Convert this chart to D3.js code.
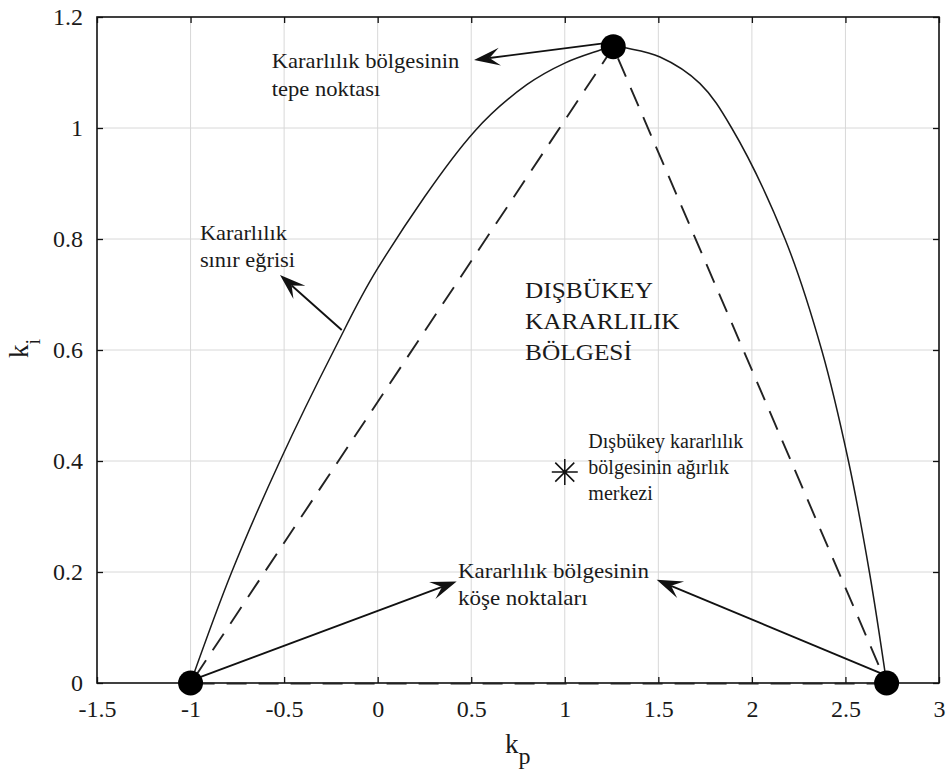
<!DOCTYPE html>
<html>
<head>
<meta charset="utf-8">
<script src="https://cdn.jsdelivr.net/npm/d3@7/dist/d3.min.js"></script>
<style>
  html, body { margin: 0; padding: 0; background: #fff; }
  svg text { font-family: "Liberation Serif", "Times New Roman", Times, "DejaVu Serif", serif; fill: #1a1a1a; }
</style>
</head>
<body>
<svg id="chart" width="946" height="773"></svg>
<script>
// Stability boundary of the PI controller in the (kp, ki) plane
const boundaryKp = [-1.00, -0.78, -0.522, -0.233, 0.00, 0.515, 0.797, 1.00, 1.19, 1.258, 1.33, 1.509, 1.723, 1.892, 2.177, 2.373, 2.516, 2.628, 2.72];
const boundaryKi = [0.00, 0.20, 0.40, 0.60, 0.747, 0.993, 1.078, 1.117, 1.1405, 1.148, 1.144, 1.128, 1.08, 1.00, 0.80, 0.60, 0.40, 0.20, 0.00];

// Vertices of the convex stability region (two corners and the apex)
const vertexKp = [-1.00, 1.259, 2.72];
const vertexKi = [0.00, 1.1465, 0.00];

// Centre of gravity of the convex region
const centroidKp = [1.0];
const centroidKi = [0.38];

// Axis ticks
const xTicks = [-1.5, -1, -0.5, 0, 0.5, 1, 1.5, 2, 2.5, 3];
const yTicks = [0, 0.2, 0.4, 0.6, 0.8, 1, 1.2];
const xTickLabels = ["-1.5", "-1", "-0.5", "0", "0.5", "1", "1.5", "2", "2.5", "3"];
const yTickLabels = ["0", "0.2", "0.4", "0.6", "0.8", "1", "1.2"];

// Annotation arrows (tail -> head, in kp/ki units)
const arrowFromKp = [1.206, -0.192, -0.985, 2.70];
const arrowFromKi = [1.1525, 0.636, 0.006, 0.016];
const arrowToKp = [0.515, -0.522, 0.422, 1.491];
const arrowToKi = [1.1225, 0.735, 0.183, 0.186];

// Annotation texts (anchor in kp/ki units, one entry per line)
const labelLines = [
  ["Kararlılık bölgesinin", "tepe noktası"],
  ["Kararlılık", "sınır eğrisi"],
  ["DIŞBÜKEY", "KARARLILIK", "BÖLGESİ"],
  ["Dışbükey kararlılık", "bölgesinin ağırlık", "merkezi"],
  ["Kararlılık bölgesinin", "köşe noktaları"]
];
const labelKp = [-0.566, -0.950, 0.788, 1.126, 0.429];
const labelKi = [1.109, 0.798, 0.693, 0.423, 0.189];

const W = 946, H = 773;
const margin = { left: 97, right: 7, top: 17, bottom: 90 };
const svg = d3.select("#chart");

const x = d3.scaleLinear().domain([-1.5, 3]).range([margin.left, W - margin.right]);
const y = d3.scaleLinear().domain([0, 1.2]).range([H - margin.bottom, margin.top]);

// grid
const grid = svg.append("g").attr("stroke", "#d8d8d8").attr("stroke-width", 1);
grid.selectAll("line.gx").data(xTicks.slice(1, -1)).join("line")
  .attr("x1", d => x(d)).attr("x2", d => x(d))
  .attr("y1", y(0)).attr("y2", y(1.2));
grid.selectAll("line.gy").data(yTicks.slice(1, -1)).join("line")
  .attr("y1", d => y(d)).attr("y2", d => y(d))
  .attr("x1", x(-1.5)).attr("x2", x(3));

// axes with inward ticks
const tickLen = 6;
const axB = svg.append("g").attr("transform", `translate(0,${y(0)})`)
  .call(d3.axisBottom(x).tickValues(xTicks).tickSize(-tickLen).tickPadding(17)
    .tickFormat((d, i) => xTickLabels[i]));
const axT = svg.append("g").attr("transform", `translate(0,${y(1.2)})`)
  .call(d3.axisTop(x).tickValues(xTicks).tickSize(-tickLen).tickFormat(""));
const axL = svg.append("g").attr("transform", `translate(${x(-1.5)},0)`)
  .call(d3.axisLeft(y).tickValues(yTicks).tickSize(-tickLen).tickPadding(14)
    .tickFormat((d, i) => yTickLabels[i]));
const axR = svg.append("g").attr("transform", `translate(${x(3)},0)`)
  .call(d3.axisRight(y).tickValues(yTicks).tickSize(-tickLen).tickFormat(""));
[axB, axT, axL, axR].forEach(g => {
  g.attr("font-family", null);
  g.select(".domain").remove();
  g.selectAll(".tick line").attr("stroke", "#111").attr("stroke-width", 1.3);
  g.selectAll(".tick text").attr("font-size", 24).attr("fill", "#1a1a1a");
});
axB.selectAll(".tick text").attr("dy", "0.71em");

// box
svg.append("rect")
  .attr("x", x(-1.5)).attr("y", y(1.2))
  .attr("width", x(3) - x(-1.5)).attr("height", y(0) - y(1.2))
  .attr("fill", "none").attr("stroke", "#111").attr("stroke-width", 1.6);

// dashed convex region (triangle)
const tri = d3.range(vertexKp.length).map(i => [vertexKp[i], vertexKi[i]]);
svg.append("path")
  .attr("d", d3.line().x(d => x(d[0])).y(d => y(d[1]))([tri[2], tri[0], tri[1], tri[2]]))
  .attr("fill", "none").attr("stroke", "#222").attr("stroke-width", 1.9)
  .attr("stroke-dasharray", "20,12")
  .attr("transform", "translate(0,0.6)");

// stability boundary
const curve = boundaryKp.map((k, i) => [k, boundaryKi[i]]);
svg.append("path")
  .attr("d", d3.line().curve(d3.curveCatmullRom.alpha(0.5)).x(d => x(d[0])).y(d => y(d[1]))(curve))
  .attr("fill", "none").attr("stroke", "#1a1a1a").attr("stroke-width", 1.5);

// arrows
function arrow(x0, y0, x1, y1) {
  const ang = Math.atan2(y1 - y0, x1 - x0);
  const L = 26, Wd = 18, notch = 0.6;
  const g = svg.append("g");
  g.append("line")
    .attr("x1", x0).attr("y1", y0)
    .attr("x2", x1 - Math.cos(ang) * L * notch).attr("y2", y1 - Math.sin(ang) * L * notch)
    .attr("stroke", "#111").attr("stroke-width", 1.9);
  g.append("path")
    .attr("d", `M0,0 L${-L},${-Wd / 2} L${-L * notch},0 L${-L},${Wd / 2} Z`)
    .attr("transform", `translate(${x1},${y1}) rotate(${ang * 180 / Math.PI})`)
    .attr("fill", "#111");
}
arrowFromKp.forEach((k, i) => arrow(x(k), y(arrowFromKi[i]), x(arrowToKp[i]), y(arrowToKi[i])));

// vertex markers
svg.append("g").selectAll("circle").data(tri).join("circle")
  .attr("cx", d => x(d[0])).attr("cy", d => y(d[1])).attr("r", 12.5).attr("fill", "#000");

// centroid marker (asterisk)
const cx = x(centroidKp[0]), cy = y(centroidKi[0]);
const s = 13, sd = 9.5;
svg.append("path")
  .attr("d", `M${cx - s},${cy}H${cx + s}M${cx},${cy - s}V${cy + s}` +
    `M${cx - sd},${cy - sd}L${cx + sd},${cy + sd}M${cx - sd},${cy + sd}L${cx + sd},${cy - sd}`)
  .attr("stroke", "#111").attr("stroke-width", 1.5).attr("fill", "none");

// annotation texts
const fontSizes = [20, 20, 23, 20, 20];
const stretch = [1.13, 1.12, 1.1, 1.0, 1.15];
const lineGaps = [28, 27, 31, 26, 27];
labelLines.forEach((lines, i) => {
  const t = svg.append("text")
    .attr("transform", `translate(${x(labelKp[i])},${y(labelKi[i])}) scale(${stretch[i]},1)`)
    .attr("font-size", fontSizes[i]);
  lines.forEach((ln, j) => {
    t.append("tspan").attr("x", 0).attr("dy", j === 0 ? 0 : lineGaps[i]).text(ln);
  });
});

// axis titles
const xl = svg.append("text").attr("x", 505).attr("y", 753).attr("font-size", 27);
xl.append("tspan").text("k");
xl.append("tspan").attr("dy", 11).attr("font-size", 24).text("p");
const yl = svg.append("text").attr("transform", "translate(28,358) rotate(-90)").attr("font-size", 27);
yl.append("tspan").text("k");
yl.append("tspan").attr("dy", 12).attr("font-size", 20).text("i");
</script>
</body>
</html>
